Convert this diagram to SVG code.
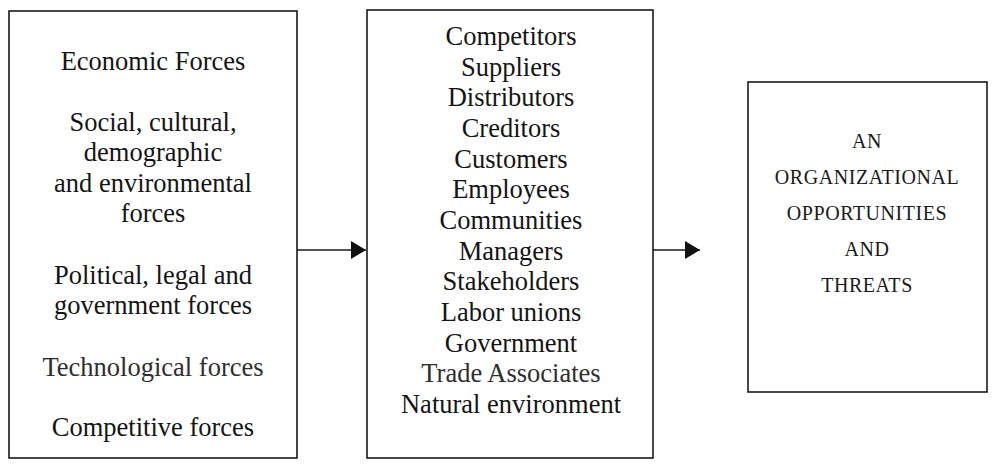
<svg xmlns="http://www.w3.org/2000/svg" width="992" height="471" viewBox="0 0 992 471">
  <style>
    .box { fill: #ffffff; stroke: #1a1a1a; stroke-width: 1.6; }
    .t { font-family: "Liberation Serif", "Times New Roman", serif; font-size: 26.5px; fill: #141414; text-anchor: middle; }
    .light { fill: #2e2e2e; }
    .caps { font-family: "Liberation Serif", "Times New Roman", serif; font-size: 20px; letter-spacing: 0.55px; fill: #1a1a1a; text-anchor: middle; }
    .link { stroke: #1a1a1a; stroke-width: 1.6; fill: none; }
  </style>
  <defs>
    <marker id="arrow" viewBox="0 0 15 18" refX="15" refY="9" markerWidth="15" markerHeight="18" markerUnits="userSpaceOnUse" orient="auto">
      <path d="M0,0 L15,9 L0,18 Z" fill="#111111"/>
    </marker>
  </defs>
  <rect width="992" height="471" fill="#ffffff"/>

  <!-- External forces -->
  <g id="forces">
    <rect class="box" x="9" y="11" width="288" height="447"/>
    <text class="t" x="153" y="70">Economic Forces</text>
    <text class="t" x="153" y="131">Social, cultural,</text>
    <text class="t" x="153" y="161">demographic</text>
    <text class="t" x="153" y="192">and environmental</text>
    <text class="t" x="153" y="222">forces</text>
    <text class="t" x="153" y="284">Political, legal and</text>
    <text class="t" x="153" y="314">government forces</text>
    <text class="t light" x="153" y="376">Technological forces</text>
    <text class="t" x="153" y="436">Competitive forces</text>
  </g>

  <!-- Stakeholder groups -->
  <g id="stakeholders">
    <rect class="box" x="367" y="10" width="286" height="448"/>
    <text class="t" x="511" y="45">Competitors</text>
    <text class="t" x="511" y="75.7">Suppliers</text>
    <text class="t" x="511" y="106.3">Distributors</text>
    <text class="t" x="511" y="137">Creditors</text>
    <text class="t" x="511" y="167.7">Customers</text>
    <text class="t" x="511" y="198.3">Employees</text>
    <text class="t" x="511" y="229">Communities</text>
    <text class="t" x="511" y="259.7">Managers</text>
    <text class="t" x="511" y="290.3">Stakeholders</text>
    <text class="t" x="511" y="321">Labor unions</text>
    <text class="t" x="511" y="351.7">Government</text>
    <text class="t light" x="511" y="382.3">Trade Associates</text>
    <text class="t" x="511" y="413">Natural environment</text>
  </g>

  <!-- Outcome -->
  <g id="outcome">
    <rect class="box" x="748" y="82" width="239" height="310"/>
    <text class="caps" x="867" y="148">AN</text>
    <text class="caps" x="867" y="184">ORGANIZATIONAL</text>
    <text class="caps" x="867" y="220">OPPORTUNITIES</text>
    <text class="caps" x="867" y="256">AND</text>
    <text class="caps" x="867" y="292">THREATS</text>
  </g>

  <!-- Connectors -->
  <g id="connectors">
    <line class="link" x1="297" y1="250" x2="366" y2="250" marker-end="url(#arrow)"/>
    <line class="link" x1="653" y1="250" x2="700" y2="250" marker-end="url(#arrow)"/>
  </g>
</svg>
